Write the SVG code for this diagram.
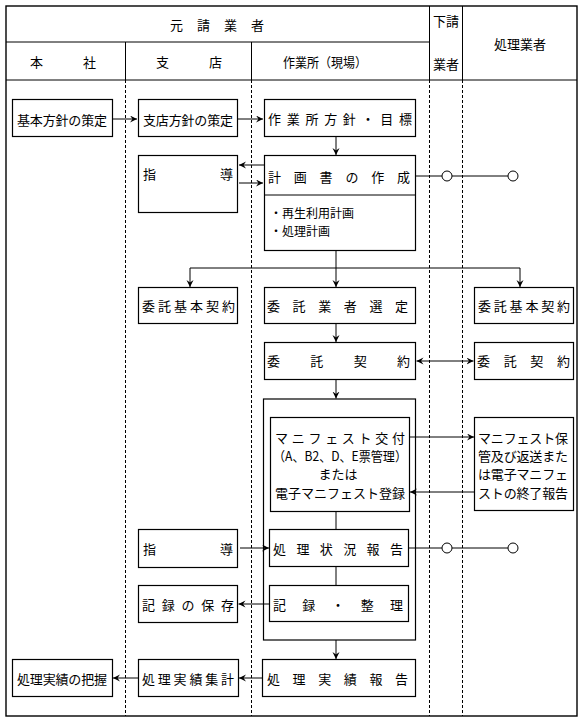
<svg xmlns="http://www.w3.org/2000/svg" width="585" height="723" viewBox="0 0 585 723">
<style>
text{font-family:"Noto Sans CJK JP","Noto Sans CJK SC",sans-serif;font-size:13px;fill:#000;dominant-baseline:central}
.s{font-size:12px}
.b{fill:#fff;stroke:#000;stroke-width:1.2}
.c{fill:none;stroke:#000;stroke-width:1}
.d{fill:none;stroke:#000;stroke-width:1;stroke-dasharray:3 2}
.f{fill:none;stroke:#000;stroke-width:1.4}
.m{text-anchor:middle}
.o{fill:#fff;stroke:#000;stroke-width:1}
</style>
<defs>
<marker id="ah" markerUnits="userSpaceOnUse" markerWidth="8" markerHeight="8" refX="7" refY="3.5" orient="auto-start-reverse">
<path d="M0,0 L7,3.5 L0,7 L2.5,3.5 z" fill="#000"/>
</marker>
</defs>
<rect width="585" height="723" fill="#fff"/>
<g id="frame">
<rect class="f" x="6" y="6" width="571" height="710"/>
<line class="c" x1="6" y1="42" x2="429.5" y2="42"/>
<line class="c" x1="6" y1="80" x2="577" y2="80"/>
<line class="c" x1="125.5" y1="42" x2="125.5" y2="80"/>
<line class="c" x1="251.5" y1="42" x2="251.5" y2="80"/>
<line class="c" x1="429.5" y1="6" x2="429.5" y2="80"/>
<line class="c" x1="462.5" y1="6" x2="462.5" y2="80"/>
<line class="d" x1="125.5" y1="80" x2="125.5" y2="716"/>
<line class="d" x1="251.5" y1="80" x2="251.5" y2="716"/>
<line class="d" x1="429.5" y1="80" x2="429.5" y2="716"/>
<line class="d" x1="462.5" y1="80" x2="462.5" y2="716"/>
<text x="170" y="24" textLength="94" lengthAdjust="spacing">元請業者</text>
<text x="30" y="61" textLength="66" lengthAdjust="spacing">本社</text>
<text x="156" y="61" textLength="66" lengthAdjust="spacing">支店</text>
<text x="283" y="61" textLength="84" lengthAdjust="spacingAndGlyphs">作業所（現場）</text>
<text class="m" x="446" y="20">下請</text>
<text class="m" x="446" y="63">業者</text>
<text class="m" x="520" y="43">処理業者</text>
</g>
<g id="container"><rect class="b" x="263.5" y="399" width="152" height="241"/></g>
<g id="n1"><rect class="b" x="12.5" y="99.5" width="100" height="37"/><text x="17" y="119" textLength="90" lengthAdjust="spacing">基本方針の策定</text></g>
<g id="n2"><rect class="b" x="138.5" y="99.5" width="99" height="37"/><text x="143" y="119" textLength="90" lengthAdjust="spacing">支店方針の策定</text></g>
<g id="n3"><rect class="b" x="264.5" y="99.5" width="151" height="37"/><text x="268" y="118" textLength="144" lengthAdjust="spacing">作業所方針・目標</text></g>
<g id="n4"><rect class="b" x="138.5" y="155.5" width="99" height="57"/><text x="143" y="173" textLength="90" lengthAdjust="spacing">指導</text></g>
<g id="n5"><rect class="b" x="264.5" y="155.5" width="151" height="95"/><line class="c" x1="264.5" y1="195" x2="415.5" y2="195"/><text x="268" y="176" textLength="142" lengthAdjust="spacing">計画書の作成</text><text class="s" x="270" y="212">・再生利用計画</text><text class="s" x="270" y="230">・処理計画</text></g>
<g id="n6"><rect class="b" x="138.5" y="287.5" width="99" height="36"/><text x="142" y="305" textLength="93" lengthAdjust="spacing">委託基本契約</text></g>
<g id="n7"><rect class="b" x="264.5" y="287.5" width="151" height="36"/><text x="267" y="305" textLength="141" lengthAdjust="spacing">委託業者選定</text></g>
<g id="n8"><rect class="b" x="474.5" y="287.5" width="99" height="36"/><text x="478" y="305" textLength="92" lengthAdjust="spacing">委託基本契約</text></g>
<g id="n9"><rect class="b" x="264.5" y="342.5" width="151" height="37"/><text x="267" y="360" textLength="143" lengthAdjust="spacing">委託契約</text></g>
<g id="n10"><rect class="b" x="474.5" y="342.5" width="99" height="37"/><text x="477" y="360" textLength="93" lengthAdjust="spacing">委託契約</text></g>
<g id="n11"><rect class="b" x="270.5" y="417.5" width="139" height="94"/><text x="275" y="437" textLength="130" lengthAdjust="spacing">マニフェスト交付</text><text x="273" y="455" textLength="134" lengthAdjust="spacingAndGlyphs">（A、B2、D、E票管理）</text><text class="m" x="338" y="473">または</text><text x="275" y="492" textLength="130" lengthAdjust="spacing">電子マニフェスト登録</text></g>
<g id="n12"><rect class="b" x="474.5" y="417.5" width="99" height="93"/><text x="478" y="437" textLength="90" lengthAdjust="spacing">マニフェスト保</text><text x="478" y="455" textLength="90" lengthAdjust="spacing">管及び返送また</text><text x="478" y="473" textLength="90" lengthAdjust="spacing">は電子マニフェ</text><text x="478" y="492" textLength="90" lengthAdjust="spacing">ストの終了報告</text></g>
<g id="n13"><rect class="b" x="138.5" y="529.5" width="99" height="38"/><text x="143" y="548" textLength="90" lengthAdjust="spacing">指導</text></g>
<g id="n14"><rect class="b" x="269.5" y="529.5" width="139" height="37"/><text x="273" y="548" textLength="130" lengthAdjust="spacing">処理状況報告</text></g>
<g id="n15"><rect class="b" x="138.5" y="585.5" width="99" height="37"/><text x="142" y="604" textLength="92" lengthAdjust="spacing">記録の保存</text></g>
<g id="n16"><rect class="b" x="269.5" y="585.5" width="139" height="36"/><text x="273" y="604" textLength="130" lengthAdjust="spacing">記録・整理</text></g>
<g id="n17"><rect class="b" x="12.5" y="659.5" width="100" height="37"/><text x="17" y="678" textLength="90" lengthAdjust="spacing">処理実績の把握</text></g>
<g id="n18"><rect class="b" x="138.5" y="659.5" width="100" height="37"/><text x="142" y="678" textLength="92" lengthAdjust="spacing">処理実績集計</text></g>
<g id="n19"><rect class="b" x="262.5" y="659.5" width="153" height="37"/><text x="267" y="678" textLength="141" lengthAdjust="spacing">処理実績報告</text></g>
<g id="connectors">
<path class="c" d="M112.5,119 H137" marker-end="url(#ah)"/>
<path class="c" d="M237.5,119 H263" marker-end="url(#ah)"/>
<path class="c" d="M336,136.5 V155" marker-end="url(#ah)"/>
<path class="c" d="M264,165 H239" marker-end="url(#ah)"/>
<path class="c" d="M239,183 H263" marker-end="url(#ah)"/>
<path class="c" d="M415.5,176 H442 M452,176 H508"/>
<circle class="o" cx="447" cy="176" r="5"/>
<circle class="o" cx="513" cy="176" r="5"/>
<path class="c" d="M336,250.5 V268 M190,268 H520"/>
<path class="c" d="M190,268 V287" marker-end="url(#ah)"/>
<path class="c" d="M336,268 V287" marker-end="url(#ah)"/>
<path class="c" d="M520,268 V287" marker-end="url(#ah)"/>
<path class="c" d="M336,323.5 V342" marker-end="url(#ah)"/>
<path class="c" d="M416.5,361 H473.5" marker-start="url(#ah)" marker-end="url(#ah)"/>
<path class="c" d="M336,379.5 V398.5" marker-end="url(#ah)"/>
<path class="c" d="M409.5,437 H474" marker-end="url(#ah)"/>
<path class="c" d="M474.5,492 H410" marker-end="url(#ah)"/>
<path class="c" d="M336,511.5 V529.5 M336,566.5 V585.5"/>
<path class="c" d="M240,548 H269" marker-end="url(#ah)"/>
<path class="c" d="M269.5,604 H238.5" marker-end="url(#ah)"/>
<path class="c" d="M408.5,548 H442 M452,548 H508"/>
<circle class="o" cx="447" cy="548" r="5"/>
<circle class="o" cx="513" cy="548" r="5"/>
<path class="c" d="M336,640 V659" marker-end="url(#ah)"/>
<path class="c" d="M262.5,678 H239" marker-end="url(#ah)"/>
<path class="c" d="M138.5,678 H113" marker-end="url(#ah)"/>
</g>
</svg>
